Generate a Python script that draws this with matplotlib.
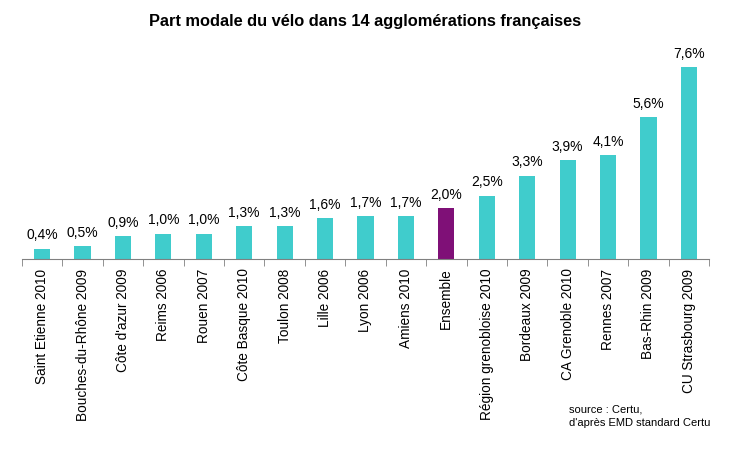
import matplotlib
matplotlib.use("Agg")
import matplotlib.pyplot as plt
import numpy as np

plt.rcParams['font.family'] = ['Liberation Sans', 'DejaVu Sans']

villes = ["Saint Etienne 2010", "Bouches-du-Rhône 2009", "Côte d'azur 2009",
          "Reims 2006", "Rouen 2007", "Côte Basque 2010", "Toulon 2008",
          "Lille 2006", "Lyon 2006", "Amiens 2010", "Ensemble",
          "Région grenobloise 2010", "Bordeaux 2009", "CA Grenoble 2010",
          "Rennes 2007", "Bas-Rhin 2009", "CU Strasbourg 2009"]
parts = [0.4, 0.5, 0.9, 1.0, 1.0, 1.3, 1.3, 1.6, 1.7, 1.7, 2.0,
         2.5, 3.3, 3.9, 4.1, 5.6, 7.6]

teal = "#40CCCC"
violet = "#7F1077"
couleurs = [violet if v == "Ensemble" else teal for v in villes]

fig = plt.figure(figsize=(7.31, 4.55), dpi=100)
ax = fig.add_axes([0.030, 0.431, 0.940, 0.444])

x = np.arange(len(villes))
ax.bar(x, parts, width=0.4, color=couleurs)

for xi, v in zip(x, parts):
    ax.text(xi, v + 0.25, f"{v:.1f}%".replace(".", ","), ha="center",
            va="bottom", fontsize=10)

ax.set_xlim(-0.5, len(villes) - 0.5)
ax.set_ylim(0, 8)
ax.set_xticks(x)
ax.set_xticklabels(villes, rotation=90, fontsize=9.8)
ax.tick_params(axis="x", length=0, pad=7)
ax.set_xticks(np.arange(len(villes) + 1) - 0.5, minor=True)
ax.tick_params(axis="x", which="minor", length=5, color="#808080", direction="out")
ax.set_yticks([])
for s in ["top", "right", "left"]:
    ax.spines[s].set_visible(False)
ax.spines["bottom"].set_color("#808080")

fig.text(0.5, 0.953, "Part modale du vélo dans 14 agglomérations françaises",
         ha="center", va="center", fontsize=11.8, fontweight="bold")
fig.text(0.779, 0.085, "source : Certu,\nd'après EMD standard Certu",
         ha="left", va="center", fontsize=8, linespacing=1.5)

fig.savefig("out.png", dpi=100)
